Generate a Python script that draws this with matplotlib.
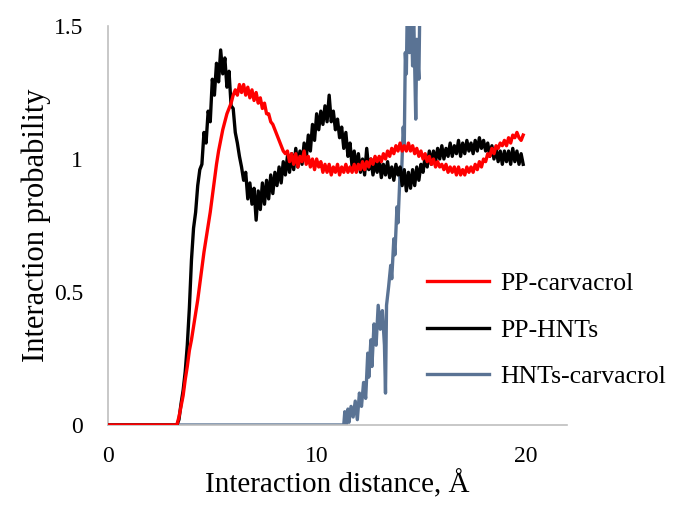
import numpy as np
import matplotlib
matplotlib.use("Agg")
import matplotlib.pyplot as plt

plt.rcParams["font.family"] = ["Liberation Serif", "DejaVu Serif"]

# distance grid of the two PP curves, 3.3 .. 19.9 A
x_pp = np.round(np.arange(3.3, 19.95, 0.1), 2)

pp_hnts = [
    0.00, 0.02, 0.08, 0.13, 0.20, 0.30, 0.44, 0.62, 0.74, 0.80,
    0.90, 0.96, 0.98, 1.10, 1.06, 1.18, 1.14, 1.30, 1.24, 1.36,
    1.29, 1.41, 1.32, 1.38, 1.27, 1.33, 1.20, 1.19, 1.10, 1.06,
    1.01, 0.97, 0.92, 0.95, 0.85, 0.91, 0.83, 0.89, 0.77, 0.88,
    0.81, 0.91, 0.83, 0.92, 0.85, 0.94, 0.87, 0.95, 0.90, 0.97,
    0.91, 0.99, 0.94, 1.01, 0.95, 1.02, 0.96, 1.04, 0.97, 1.03,
    0.98, 1.06, 1.00, 1.09, 1.03, 1.13, 1.07, 1.17, 1.11, 1.18,
    1.13, 1.20, 1.14, 1.24, 1.14, 1.18, 1.11, 1.15, 1.08, 1.12,
    1.04, 1.10, 1.01, 1.06, 0.97, 1.03, 0.96, 1.02, 0.95, 1.00,
    0.94, 1.04, 0.96, 1.00, 0.94, 0.99, 0.95, 1.00, 0.93, 0.98,
    0.94, 0.99, 0.93, 0.97, 0.92, 0.98, 0.94, 0.97, 0.90, 0.96,
    0.88, 0.95, 0.89, 0.96, 0.90, 0.97, 0.92, 0.98, 0.95, 1.01,
    0.97, 1.03, 0.98, 1.03, 0.99, 1.04, 1.00, 1.05, 1.00, 1.04,
    1.01, 1.06, 1.01, 1.05, 1.02, 1.07, 1.01, 1.06, 1.02, 1.07,
    1.03, 1.06, 1.02, 1.07, 1.03, 1.08, 1.04, 1.07, 1.03, 1.06,
    1.01, 1.05, 1.00, 1.04, 0.99, 1.03, 0.98, 1.03, 0.99, 1.03,
    0.98, 1.04, 0.99, 1.03, 0.98, 1.02, 0.98,
]

pp_carvacrol = [
    0.00, 0.03, 0.07, 0.11, 0.17, 0.22, 0.28, 0.32, 0.37, 0.42,
    0.47, 0.53, 0.59, 0.65, 0.70, 0.75, 0.80, 0.86, 0.92, 0.98,
    1.03, 1.07, 1.11, 1.14, 1.17, 1.19, 1.21, 1.24, 1.26, 1.24,
    1.28, 1.25, 1.28, 1.24, 1.27, 1.23, 1.26, 1.22, 1.25, 1.21,
    1.23, 1.19, 1.21, 1.17, 1.17, 1.14, 1.13, 1.11, 1.09, 1.07,
    1.05, 1.03, 1.02, 1.03, 0.99, 1.02, 0.98, 1.02, 0.97, 1.01,
    0.99, 1.03, 0.98, 1.01, 0.97, 1.00, 0.96, 1.00, 0.97, 0.99,
    0.95, 0.98, 0.95, 0.98, 0.94, 0.97, 0.95, 0.98, 0.94, 0.97,
    0.95, 0.98, 0.95, 0.97, 0.95, 0.98, 0.95, 0.98, 0.96, 0.99,
    0.96, 0.99, 0.97, 1.00, 0.98, 1.01, 0.99, 1.01, 0.99, 1.02,
    1.00, 1.03, 1.01, 1.04, 1.02, 1.05, 1.03, 1.06, 1.03, 1.05,
    1.03, 1.06, 1.03, 1.05, 1.02, 1.04, 1.01, 1.03, 1.00, 1.02,
    0.99, 1.01, 0.98, 1.00, 0.97, 0.99, 0.97, 0.98, 0.96, 0.98,
    0.95, 0.97, 0.95, 0.97, 0.94, 0.97, 0.94, 0.96, 0.94, 0.97,
    0.95, 0.97, 0.95, 0.98, 0.96, 0.99, 0.97, 1.00, 0.99, 1.02,
    1.01, 1.04, 1.02, 1.05, 1.04, 1.06, 1.05, 1.07, 1.05, 1.08,
    1.06, 1.09, 1.08, 1.10, 1.08, 1.07, 1.09,
]

x_hnts = [0.0, 11.3, 11.35, 11.4, 11.5, 11.55, 11.65, 11.75, 11.85, 11.95,
          12.05, 12.15, 12.25, 12.35, 12.45, 12.5, 12.6, 12.65, 12.75, 12.85,
          12.95, 13.05, 13.15, 13.25, 13.3, 13.35, 13.45, 13.55, 13.6, 13.7,
          13.75, 13.85, 13.9, 14.0, 14.05, 14.15, 14.2, 14.25, 14.3, 14.35,
          14.45, 14.5, 14.6, 14.65, 14.75, 14.8, 14.9, 14.95, 15.0]
hnts_carvacrol = [0.0, 0.0, 0.05, 0.0, 0.06, 0.01, 0.07, 0.03, 0.09, 0.02,
                  0.12, 0.07, 0.16, 0.10, 0.27, 0.18, 0.32, 0.22, 0.38, 0.30,
                  0.45, 0.36, 0.43, 0.30, 0.12, 0.45, 0.52, 0.60, 0.55, 0.70,
                  0.64, 0.82, 0.76, 0.95, 0.90, 1.12, 1.05, 1.40, 1.32, 1.60,
                  1.40, 1.65, 1.35, 1.55, 1.15, 1.45, 1.30, 1.60, 1.70]

# zero stretch before the PP curves start
x_lead = [0.0, 3.3]

fig = plt.figure(figsize=(6.81, 5.08), dpi=100)
ax = fig.add_axes([0.1586, 0.1634, 0.674, 0.7854])

lw = 2.4
ax.plot(x_hnts, hnts_carvacrol, color="#5a7394", lw=lw, label="HNTs-carvacrol", zorder=2)
ax.plot(x_lead + list(x_pp[1:]), [0.0, 0.0] + pp_hnts[1:], color="black", lw=lw,
        label="PP-HNTs", zorder=3)
ax.plot(x_lead + list(x_pp[1:]), [0.0, 0.0] + pp_carvacrol[1:], color="#ff0000", lw=lw,
        label="PP-carvacrol", zorder=4)

ax.set_xlim(0, 22)
ax.set_ylim(0, 1.5)
ax.set_xticks([0, 10, 20])
ax.set_yticks([0, 0.5, 1, 1.5])
ax.set_yticklabels(["0", "0.5", "1", "1.5"])
for s in ["top", "right"]:
    ax.spines[s].set_visible(False)
for s in ["left", "bottom"]:
    ax.spines[s].set_color("#bfbfbf")
    ax.spines[s].set_linewidth(1.2)
ax.tick_params(length=0, labelsize=17)
ax.tick_params(axis="x", pad=15)
ax.tick_params(axis="y", pad=18)

ax.set_xlabel("Interaction distance, Å", fontsize=21, labelpad=2)
ax.set_ylabel("Interaction probability", fontsize=22, labelpad=2)

h, l = ax.get_legend_handles_labels()
ax.legend(h[::-1], l[::-1], loc="center left", bbox_to_anchor=(0.695, 0.238),
          frameon=False, fontsize=18.5, handlelength=2.4, handletextpad=0.45,
          labelspacing=0.9, borderpad=0, borderaxespad=0)

fig.savefig("out.png", dpi=100)
